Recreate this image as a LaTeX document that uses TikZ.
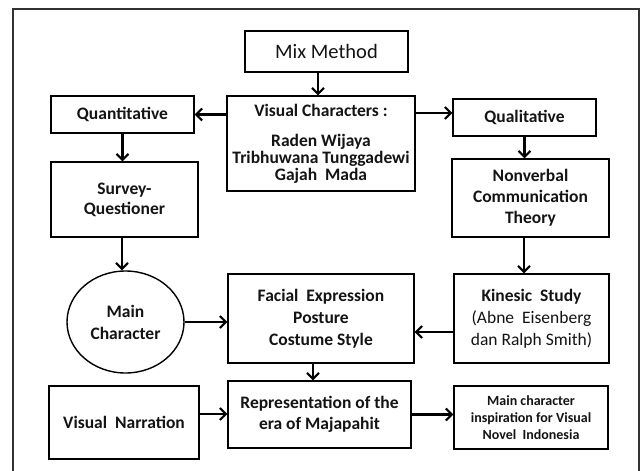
\documentclass[tikz,border=0pt]{standalone}
\usepackage{fontspec}
\setmainfont{Carlito}
\usetikzlibrary{arrows.meta,shapes.geometric}
\begin{document}
\begin{tikzpicture}[x=1pt,y=-1pt,
  box/.style={draw, line width=1.4pt, align=center, inner sep=0pt, text=black!92,
    font=\bfseries\fontsize{17.5}{21}\selectfont},
  arr/.style={line width=2.1pt, -{Straight Barb[length=6pt,width=12pt]}},
]
\useasboundingbox (0,0) rectangle (643,471);
\clip (0,0) rectangle (643,471);
\fill[white] (0,0) rectangle (643,471);
\draw[line width=1.5pt, black!80] (13,490) -- (13,9) -- (639,9) -- (639,490);

\node[box, minimum width=163pt, minimum height=41pt, font=\fontsize{20.5}{22}\selectfont] (mix) at (326.5,51.5) {Mix Method};
\node[box, minimum width=188pt, minimum height=95pt, font=\bfseries\fontsize{17.5}{17}\selectfont] (vc) at (321,143.5)
  {Visual Characters :\\[13pt]Raden Wijaya\\Tribhuwana Tunggadewi\\Gajah\ \ Mada};
\node[box, minimum width=143pt, minimum height=37pt] (quant) at (122.5,114.5) {Quantitative};
\node[box, minimum width=143pt, minimum height=37pt] (qual) at (524.5,117.5) {Qualitative};
\node[box, minimum width=147pt, minimum height=75pt, font=\bfseries\fontsize{17.5}{20}\selectfont] (survey) at (124.5,199.5) {Survey-\\Questioner};
\node[box, minimum width=157pt, minimum height=78pt] (nonv) at (530.5,198) {Nonverbal\\Communication\\Theory};
\node[box, ellipse, minimum width=117pt, minimum height=102pt, font=\bfseries\fontsize{17.5}{22}\selectfont] (main) at (125.5,322) {Main\\Character};
\node[box, minimum width=186pt, minimum height=89pt, font=\bfseries\fontsize{17.5}{22}\selectfont] (facial) at (321,318.5) {Facial\ \ Expression\\Posture\\Costume Style};
\node[box, minimum width=155pt, minimum height=89pt, font=\bfseries\fontsize{17.5}{22}\selectfont] (kin) at (531.5,318.5) {Kinesic\ \ Study\\{\mdseries (Abne\ \ Eisenberg}\\{\mdseries dan Ralph Smith)}};
\node[box, minimum width=150pt, minimum height=73pt] (narr) at (124,422.5) {Visual\ \ Narration};
\node[box, minimum width=183pt, minimum height=67pt] (rep) at (319.5,414.5) {Representation of the\\era of Majapahit};
\node[box, minimum width=154pt, minimum height=63pt, font=\bfseries\fontsize{14}{16.7}\selectfont] (insp) at (531,417.5) {Main character\\inspiration for Visual\\Novel\ \ Indonesia};

\draw[arr] ([xshift=-8.5pt]mix.south) -- ([xshift=-8.5pt]mix.south |- vc.north);
\draw[arr] (vc.west |- quant.east) -- (quant.east);
\path ([yshift=30.5pt]vc.east) coordinate (vcq);
\draw[arr] (vcq) -- (vcq -| qual.west);
\draw[arr] (quant.south) -- (quant.south |- survey.north);
\draw[arr] (qual.south) -- (qual.south |- nonv.north);
\draw[arr] ([xshift=-2.5pt]survey.south) -- ([xshift=-2.5pt]survey.south |- main.north);
\draw[arr] ([xshift=-6.5pt]nonv.south) -- ([xshift=-6.5pt]nonv.south |- kin.north);
\draw[arr] (main.east) -- (main.east -| facial.west);
\draw[arr] ([yshift=-13.5pt]kin.west) -- ([yshift=-13.5pt]kin.west -| facial.east);
\draw[arr] ([xshift=-8pt]facial.south) -- ([xshift=-8pt]facial.south |- rep.north);
\draw[arr] ([yshift=8.5pt]narr.east) -- ([yshift=8.5pt]narr.east -| rep.west);
\draw[arr] (rep.east) -- (rep.east -| insp.west);
\end{tikzpicture}
\end{document}
